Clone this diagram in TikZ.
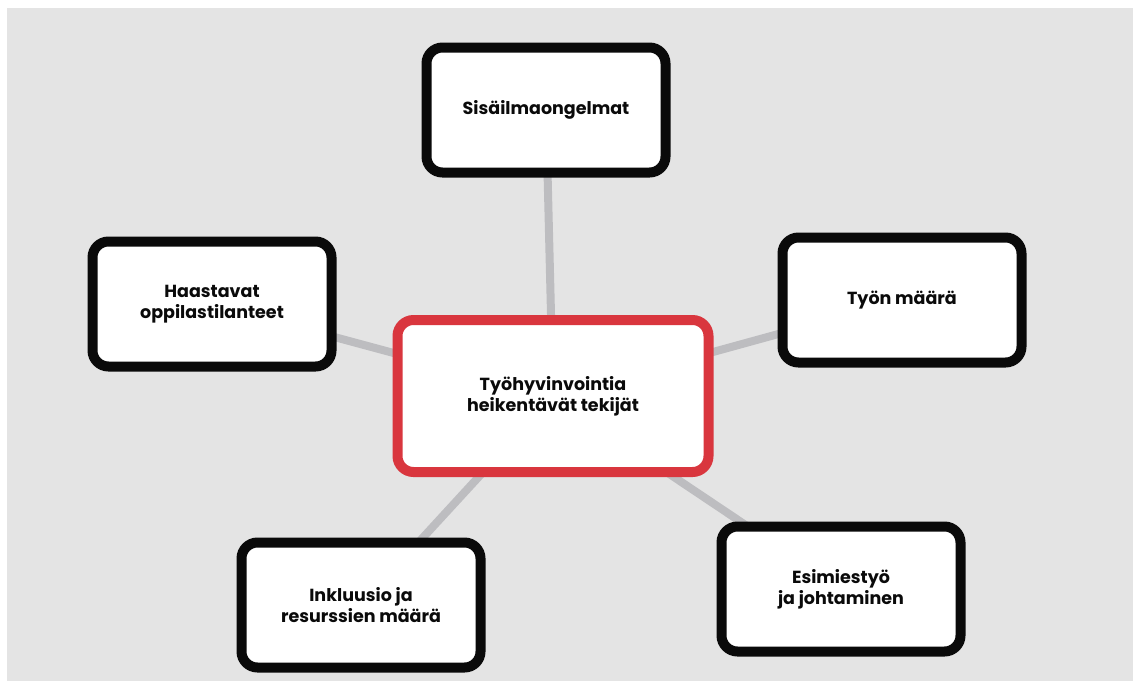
\documentclass[tikz,border=0pt]{standalone}
\usepackage{fontspec}
\setmainfont{Poppins}
\usetikzlibrary{backgrounds}
\definecolor{bggray}{HTML}{E4E4E4}
\definecolor{linkgray}{HTML}{BDBDC0}
\definecolor{boxred}{HTML}{D9363E}
\definecolor{ink}{HTML}{0A0A0A}
\tikzset{
  topic/.style={draw=ink, line width=10pt, fill=white, rounded corners=16pt,
    minimum width=239pt, minimum height=125pt, align=center, inner sep=0pt,
    font=\fontsize{17.5}{21}\selectfont\bfseries, text=ink},
  hub/.style={topic, draw=boxred, minimum width=311pt, minimum height=152pt},
  link/.style={draw=linkgray, line width=8pt}
}
\begin{document}
\begin{tikzpicture}[x=1pt,y=-1pt]
\useasboundingbox (0,0) rectangle (1133,681);
\node[hub] (c) at (553,396) {Työhyvinvointia\\heikentävät tekijät};
\node[topic] (t) at (546,110) {Sisäilmaongelmat};
\node[topic] (l) at (212,304) {Haastavat\\oppilastilanteet};
\node[topic] (r) at (902,300) {Työn määrä};
\node[topic] (br) at (841,589) {Esimiestyö\\ja johtaminen};
\node[topic] (bl) at (361,605) {Inkluusio ja\\resurssien määrä};
\begin{scope}[on background layer]
\fill[white] (0,0) rectangle (1133,681);
\fill[bggray] (7,8) rectangle (1133,681);
\draw[link] (c.center) -- (t.center);
\draw[link] (c.center) -- (l.center);
\draw[link] (c.center) -- (r.center);
\draw[link] (c.center) -- (br.center);
\draw[link] (c.center) -- (bl.center);
\end{scope}
\end{tikzpicture}
\end{document}
